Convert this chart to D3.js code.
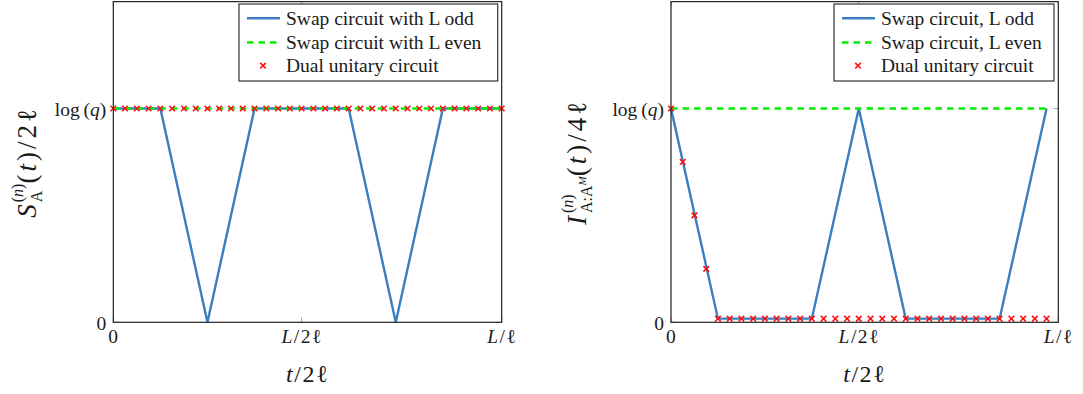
<!DOCTYPE html>
<html>
<head>
<meta charset="utf-8">
<script src="https://cdn.jsdelivr.net/npm/d3@7"></script>
<style>
  body { margin: 0; background: #fff; }
  svg { display: block; font-family: "Liberation Serif", "DejaVu Serif", serif; }
</style>
</head>
<body>
<svg id="chart" width="1083" height="394"></svg>
<script>
// ---- data (t measured in steps, log(q) = 1) ----
var leftOddT = [0, 4, 8, 12, 20, 24, 28, 33]
var leftOddS = [1, 1, 0, 1, 1, 0, 1, 1]
var leftEvenT = [0, 33]
var leftEvenS = [1, 1]
var leftDualT = [0, 1, 2, 3, 4, 5, 6, 7, 8, 9, 10, 11, 12, 13, 14, 15, 16, 17, 18, 19, 20, 21, 22, 23, 24, 25, 26, 27, 28, 29, 30, 31, 32, 33]
var leftDualS = [1, 1, 1, 1, 1, 1, 1, 1, 1, 1, 1, 1, 1, 1, 1, 1, 1, 1, 1, 1, 1, 1, 1, 1, 1, 1, 1, 1, 1, 1, 1, 1, 1, 1]

var rightOddT = [0, 4, 12, 16, 20, 28, 32]
var rightOddI = [1, 0.017, 0.017, 1, 0.017, 0.017, 1]
var rightEvenT = [0, 32]
var rightEvenI = [1, 1]
var rightDualT = [0, 1, 2, 3, 4, 5, 6, 7, 8, 9, 10, 11, 12, 13, 14, 15, 16, 17, 18, 19, 20, 21, 22, 23, 24, 25, 26, 27, 28, 29, 30, 31, 32]
var rightDualI = [1, 0.75, 0.5, 0.25, 0.017, 0.017, 0.017, 0.017, 0.017, 0.017, 0.017, 0.017, 0.017, 0.017, 0.017, 0.017, 0.017, 0.017, 0.017, 0.017, 0.017, 0.017, 0.017, 0.017, 0.017, 0.017, 0.017, 0.017, 0.017, 0.017, 0.017, 0.017, 0.017]

var xTicks = [0, 16, 33]
var xTickLabels = [[['0', 0]], [['L', 1], ['/2', 0], ['\u2113', 0]], [['L', 1], ['/', 0], ['\u2113', 0]]]
var yTicks = [0, 1]
var yTickLabels = [[['0', 0]], [['log\u2009(', 0], ['q', 1], [')', 0]]]
var xLabel = [['t', 1], ['/2', 0], ['\u2113', 0]]

var leftLegend = ['Swap circuit with L odd', 'Swap circuit with L even', 'Dual unitary circuit']
var rightLegend = ['Swap circuit, L odd', 'Swap circuit, L even', 'Dual unitary circuit']

var blue = '#3b7ebf', green = '#00ee00', red = '#ff1010', ink = '#1a1a1a'

var svg = d3.select('#chart')

function zip(a, b) { return a.map(function (v, i) { return [v, b[i]] }) }

// math label from separate pieces; pos: next | stack | cont
function mathText(g, parts) {
    var grp = g.append('g')
    var maxEnd = 0, groupStart = 0, cursor = 0
    parts.forEach(function (p) {
        var start
        if (p.pos === 'stack') start = groupStart
        else if (p.pos === 'cont') start = cursor
        else { start = maxEnd; groupStart = start }
        var t = grp.append('text')
            .attr('x', start).attr('y', p.b || 0)
            .attr('font-size', p.fs)
            .attr('font-style', p.it ? 'italic' : 'normal')
            .attr('letter-spacing', p.ls || 0)
            .attr('fill', ink)
            .text(p.t)
        var w = t.node().getComputedTextLength()
        cursor = start + w
        maxEnd = Math.max(maxEnd, cursor)
    })
    grp.attr('transform', 'translate(' + (-maxEnd / 2) + ',0)')
    return grp
}

function fillTspans(sel, pieces) {
    sel.text(null)
    pieces.forEach(function (p) {
        sel.append('tspan').attr('font-style', p[1] ? 'italic' : 'normal').text(p[0])
    })
}

function panel(cfg) {
    var x = d3.scaleLinear().domain([0, 33]).range([cfg.x0, cfg.x1])
    var y = d3.scaleLinear().domain([0, 1.5]).range([322.3, 1.6])
    var g = svg.append('g')

    // light tick marks inside the box
    var tg = g.append('g').attr('stroke', '#8a8a8a').attr('stroke-width', 0.8)
    xTicks.forEach(function (v) {
        tg.append('line').attr('x1', x(v)).attr('x2', x(v)).attr('y1', y(0)).attr('y2', y(0) - 5)
        tg.append('line').attr('x1', x(v)).attr('x2', x(v)).attr('y1', y(1.5)).attr('y2', y(1.5) + 5)
    })
    yTicks.forEach(function (v) {
        tg.append('line').attr('x1', x(0)).attr('x2', x(0) + 5).attr('y1', y(v)).attr('y2', y(v))
        tg.append('line').attr('x1', x(33)).attr('x2', x(33) - 5).attr('y1', y(v)).attr('y2', y(v))
    })

    var line = d3.line().x(function (d) { return x(d[0]) }).y(function (d) { return y(d[1]) })

    g.append('path').attr('d', line(zip(cfg.oddT, cfg.oddV)))
        .attr('fill', 'none').attr('stroke', blue).attr('stroke-width', 2.4).attr('stroke-linejoin', 'miter')
    g.append('path').attr('d', line(zip(cfg.evenT, cfg.evenV)))
        .attr('fill', 'none').attr('stroke', green).attr('stroke-width', 2.4).attr('stroke-dasharray', '6.5,5')

    var cross = d3.symbol().type(d3.symbolX).size(22)
    g.append('g').selectAll('path').data(zip(cfg.dualT, cfg.dualV)).enter()
        .append('path')
        .attr('d', cross)
        .attr('transform', function (d) { return 'translate(' + x(d[0]) + ',' + y(d[1]) + ')' })
        .attr('fill', 'none').attr('stroke', red).attr('stroke-width', 1.6)

    // box
    g.append('rect').attr('x', x(0)).attr('y', y(1.5)).attr('width', x(33) - x(0)).attr('height', y(0) - y(1.5))
        .attr('fill', 'none').attr('stroke', '#222').attr('stroke-width', 1.2)

    // axes (labels only)
    var xa = g.append('g').attr('transform', 'translate(0,' + y(0) + ')')
        .call(d3.axisBottom(x).tickValues(xTicks).tickSize(0).tickPadding(6))
    xa.attr('font-family', null).attr('font-size', null)
    xa.select('.domain').remove()
    xa.selectAll('.tick text').attr('font-size', 19.5).attr('fill', ink).attr('letter-spacing', 1.5)
        .attr('dy', 0).attr('y', 20.5)
        .each(function (d, i) { fillTspans(d3.select(this), xTickLabels[i]) })

    var ya = g.append('g').attr('transform', 'translate(' + x(0) + ',0)')
        .call(d3.axisLeft(y).tickValues(yTicks).tickSize(0).tickPadding(7))
    ya.attr('font-family', null).attr('font-size', null)
    ya.select('.domain').remove()
    ya.selectAll('.tick text').attr('font-size', 19.5).attr('fill', ink)
        .attr('dy', '0.36em')
        .each(function (d, i) { fillTspans(d3.select(this), yTickLabels[i]) })

    // x label
    var xl = g.append('text').attr('x', (cfg.x0 + cfg.x1) / 2).attr('y', 382)
        .attr('text-anchor', 'middle').attr('font-size', 24).attr('letter-spacing', 1.5).attr('fill', ink)
    fillTspans(xl, xLabel)

    // y label (rotated)
    var yl = g.append('g').attr('transform', 'translate(' + cfg.ylx + ',' + (y(0) + y(1.5)) / 2 + ') rotate(-90)')
    mathText(yl, cfg.ylabel)

    // legend
    var lg = g.append('g')
    lg.append('rect').attr('x', cfg.lx0).attr('y', 4).attr('width', cfg.lx1 - cfg.lx0).attr('height', 77)
        .attr('fill', '#fff').attr('stroke', '#333').attr('stroke-width', 1.2)
    var rows = [18.3, 42.5, 65.7]
    lg.append('line').attr('x1', cfg.lx0 + 8).attr('x2', cfg.lx0 + 41).attr('y1', rows[0]).attr('y2', rows[0])
        .attr('stroke', blue).attr('stroke-width', 2.4)
    lg.append('line').attr('x1', cfg.lx0 + 8).attr('x2', cfg.lx0 + 41).attr('y1', rows[1]).attr('y2', rows[1])
        .attr('stroke', green).attr('stroke-width', 2.4).attr('stroke-dasharray', '6.5,5')
    lg.append('path').attr('d', cross).attr('transform', 'translate(' + (cfg.lx0 + 24) + ',' + rows[2] + ')')
        .attr('fill', 'none').attr('stroke', red).attr('stroke-width', 1.6)
    lg.selectAll('text.lt').data(cfg.legend).enter().append('text')
        .attr('x', cfg.lx0 + 47).attr('y', function (d, i) { return rows[i] + 6.5 })
        .attr('font-size', 19.5).attr('fill', ink).text(function (d) { return d })
}

panel({
    x0: 113.3, x1: 501.7,
    oddT: leftOddT, oddV: leftOddS, evenT: leftEvenT, evenV: leftEvenS, dualT: leftDualT, dualV: leftDualS,
    legend: leftLegend, lx0: 239, lx1: 497.7, ylx: 36,
    ylabel: [
        { t: 'S', it: 1, fs: 27, ls: 2 },
        { t: 'A', fs: 16, b: 6 },
        { t: '(', fs: 16, b: -13, pos: 'stack' },
        { t: 'n', it: 1, fs: 16, b: -13, pos: 'cont' },
        { t: ')', fs: 16, b: -13, pos: 'cont' },
        { t: '(', fs: 27, ls: 3 },
        { t: 't', it: 1, fs: 27, ls: 3 },
        { t: ')/2\u2113', fs: 27, ls: 3 }
    ]
})

panel({
    x0: 671, x1: 1058.3,
    oddT: rightOddT, oddV: rightOddI, evenT: rightEvenT, evenV: rightEvenI, dualT: rightDualT, dualV: rightDualI,
    legend: rightLegend, lx0: 834, lx1: 1054, ylx: 586,
    ylabel: [
        { t: 'I', it: 1, fs: 27, ls: 3 },
        { t: 'A:A', fs: 16, b: 6 },
        { t: 'M', it: 1, fs: 11, b: 0, pos: 'cont' },
        { t: '(', fs: 16, b: -13, pos: 'stack' },
        { t: 'n', it: 1, fs: 16, b: -13, pos: 'cont' },
        { t: ')', fs: 16, b: -13, pos: 'cont' },
        { t: '(', fs: 27, ls: 3 },
        { t: 't', it: 1, fs: 27, ls: 3 },
        { t: ')/4\u2113', fs: 27, ls: 3 }
    ]
})
</script>
</body>
</html>
